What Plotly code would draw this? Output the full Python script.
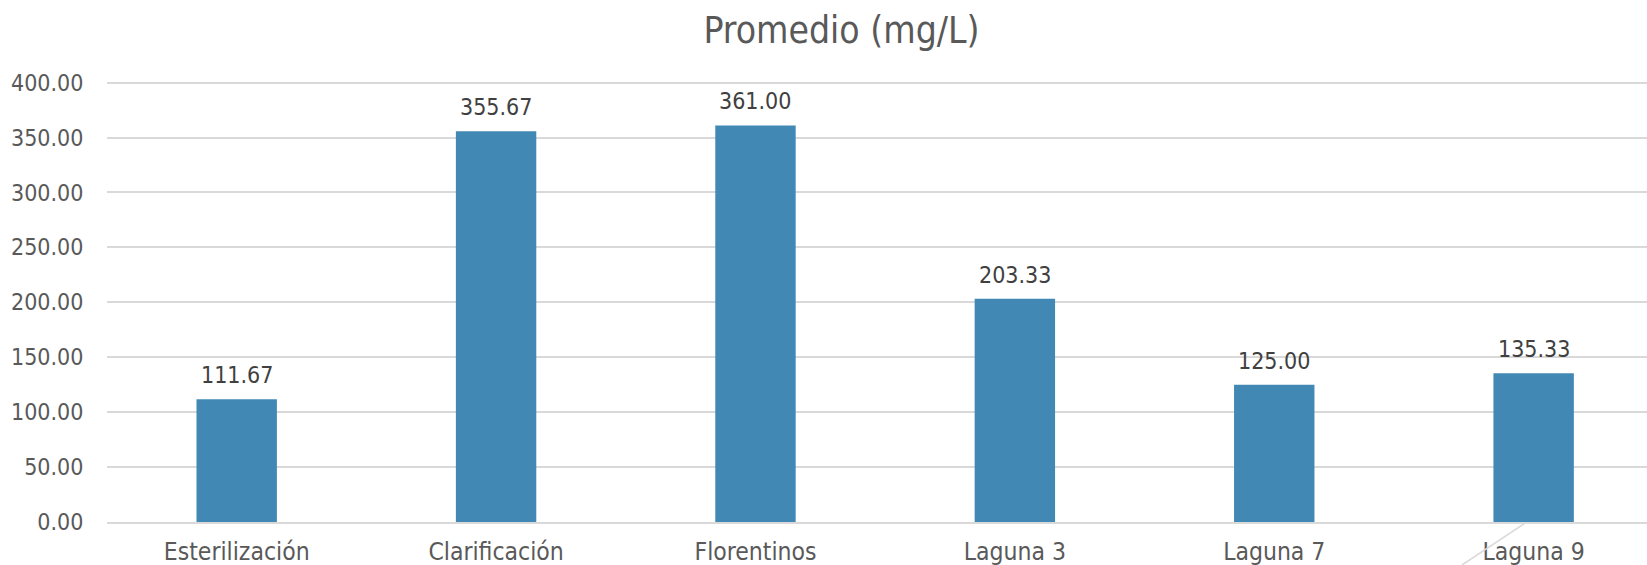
import plotly.graph_objects as go

categories = ["Esterilización", "Clarificación", "Florentinos", "Laguna 3", "Laguna 7", "Laguna 9"]
values = [111.67, 355.67, 361.00, 203.33, 125.00, 135.33]
y_ticks = [0, 50, 100, 150, 200, 250, 300, 350, 400]

FONT = "DejaVu Sans Condensed"

fig = go.Figure(go.Bar(
    x=categories, y=values,
    marker=dict(color="#4189B4", line=dict(width=0)),
    hoverinfo="x+y",
))

for c, v in zip(categories, values):
    fig.add_annotation(x=c, y=v, text=f"{v:.2f}", showarrow=False,
                       yanchor="bottom", yshift=9,
                       font=dict(family=FONT, size=23, color="#404040"))

# faint diagonal stroke seen under the last category in the reference
fig.add_shape(type="line", xref="paper", yref="paper",
              x0=0.8799, y0=-0.0975, x1=0.9208, y1=-0.0023,
              line=dict(color="#D9D9D9", width=1.5))

fig.update_layout(
    width=1647, height=565,
    margin=dict(l=107, r=0, t=81, b=43),
    paper_bgcolor="white", plot_bgcolor="white",
    bargap=0.69,
    showlegend=False,
    title=dict(text="Promedio (mg/L)", x=841.5 / 1647, xanchor="center", xref="container",
               y=1 - 30 / 565, yanchor="middle", yref="container",
               font=dict(family=FONT, size=37, color="#595959")),
    font=dict(family=FONT, color="#595959"),
)
fig.update_yaxes(range=[0, 401.5], tickvals=y_ticks, ticktext=[f"{t:.2f}" for t in y_ticks],
                 showgrid=True, gridcolor="#D9D9D9", gridwidth=1.5, zeroline=False,
                 showline=False, tickfont=dict(family=FONT, size=23, color="#595959"),
                 ticks="outside", ticklen=18, tickcolor="rgba(0,0,0,0)", automargin=False)
fig.update_xaxes(range=[-0.5, 5.437], showline=True, linecolor="#D9D9D9", linewidth=1.5,
                 tickfont=dict(family=FONT, size=24.5, color="#595959"),
                 ticks="outside", ticklen=7, tickcolor="rgba(0,0,0,0)", automargin=False)

fig.write_html("out.html", config={"displayModeBar": False},
               post_script="document.body.style.margin='0';document.body.style.overflow='hidden';")
